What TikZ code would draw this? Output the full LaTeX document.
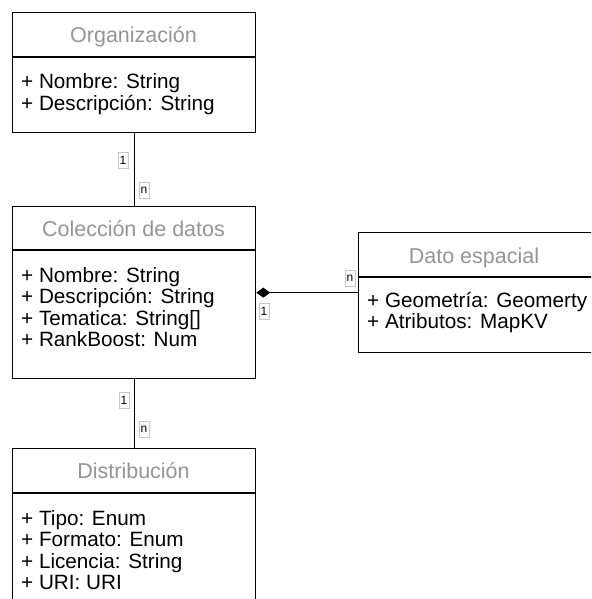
\documentclass[tikz,border=0pt]{standalone}
\usepackage{fontspec}
\setmainfont{Liberation Sans}
\usetikzlibrary{arrows.meta}
\definecolor{hdr}{HTML}{959595}
\tikzset{
  umlbox/.style={draw=black, line width=1.3pt, fill=white, anchor=north west, inner sep=0pt},
  hdrtxt/.style={anchor=base, text=hdr, font=\fontsize{21.5}{24}\selectfont, inner sep=0pt},
  attr/.style={anchor=base west, font=\fontsize{20.7}{23}\selectfont, inner sep=0pt},
  mult/.style={draw=black!22, fill=white, font=\fontsize{12}{13}\selectfont, inner sep=0.5pt, minimum width=10pt, minimum height=16pt},
  conn/.style={line width=1.3pt}
}
\begin{document}
\begin{tikzpicture}[x=1pt,y=-1pt]
\useasboundingbox (0,0) rectangle (591,599);
\fill[white] (0,0) rectangle (591,599);
\clip (0,0) rectangle (591,599);

% Organizacion
\node[umlbox, minimum width=243pt, minimum height=120pt] (org) at (12,12) {};
\draw[conn] (12,57) coordinate (orgdl) -- (255,57) coordinate (orgdr);
\node[hdrtxt] (orgh) at (133.5,43) {Organización};
\node[attr] (orga1) at (21,89) {+ Nombre: String};
\node[attr] (orga2) at (21,110.5) {+ Descripción: String};

% Coleccion
\node[umlbox, minimum width=243pt, minimum height=172pt] (col) at (12,206) {};
\draw[conn] (12,250) coordinate (coldl) -- (255,250) coordinate (coldr);
\node[hdrtxt] (colh) at (133.5,236) {Colección de datos};
\node[attr] (cola1) at (21,282) {+ Nombre: String};
\node[attr] (cola2) at (21,303.5) {+ Descripción: String};
\node[attr] (cola3) at (21,325) {+ Tematica: String[]};
\node[attr] (cola4) at (21,346.5) {+ RankBoost: Num};

% Dato espacial
\node[umlbox, minimum width=260pt, minimum height=120pt] (dato) at (358,232) {};
\draw[conn] (358,277) coordinate (datdl) -- (620,277) coordinate (datdr);
\node[hdrtxt] (dath) at (474,263) {Dato espacial};
\node[attr] (data1) at (367,307) {+ Geometría: Geomerty};
\node[attr] (data2) at (367,328.5) {+ Atributos: MapKV};

% Distribucion
\node[umlbox, minimum width=243pt, minimum height=170pt] (dist) at (12,448) {};
\draw[conn] (12,493) coordinate (disdl) -- (255,493) coordinate (disdr);
\node[hdrtxt] (dish) at (133.5,478) {Distribución};
\node[attr] (disa1) at (21,525) {+ Tipo: Enum};
\node[attr] (disa2) at (21,546.5) {+ Formato: Enum};
\node[attr] (disa3) at (21,568) {+ Licencia: String};
\node[attr] (disa4) at (21,589.5) {+ URI: URI};

% connectors
\draw[conn] (org.south) -- (col.north);
\draw[conn] (col.south) -- (dist.north);
\draw[conn, {Diamond[length=14pt,width=10pt]}-] (col.east |- dato.west) -- (dato.west);

% multiplicities
\node[mult] (m1) at (123,160) {1};
\node[mult] (m2) at (144,190) {n};
\node[mult] (m3) at (124,400) {1};
\node[mult] (m4) at (144,429) {n};
\node[mult] (m5) at (350,278) {n};
\node[mult] (m6) at (264,311) {1};
\end{tikzpicture}
\end{document}
